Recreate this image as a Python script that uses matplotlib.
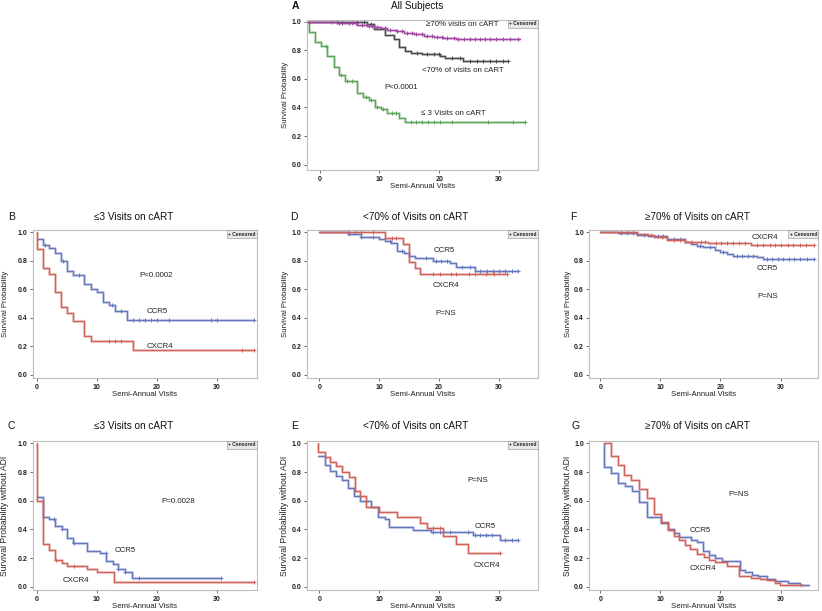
import numpy as np
import matplotlib
matplotlib.use("Agg")
import matplotlib.pyplot as plt

plt.rcParams['font.family'] = ['Liberation Sans', 'DejaVu Sans']

# ---- data (step times, survival after each time; last entry = end of follow-up) ----
# Panel A - all subjects
a_green_t = [-2.1, -1.8, -0.8, 0.2, 1.2, 2.3, 3.2, 4.2, 6.3, 7.3, 8.2, 9.2, 10.2, 11.3, 13.2, 14.2, 34.3]
a_green_s = [1.0, 0.93, 0.86, 0.83, 0.76, 0.685, 0.625, 0.587, 0.502, 0.47, 0.454, 0.406, 0.392, 0.364, 0.324, 0.30, 0.30]
a_green_c = [1.0, 3.5, 4.5, 5.4, 7.7, 8.6, 9.6, 10.6, 12.1, 12.8, 15.2, 16.2, 17.1, 18.1, 19.2, 20.2, 22.1, 28.2, 32.4, 34.3]
a_black_t = [-2.1, 4.9, 7.9, 9.1, 11.0, 12.4, 13.2, 14.3, 15.2, 17.1, 20.2, 21.0, 24.05, 31.6]
a_black_s = [1.0, 0.995, 0.985, 0.95, 0.907, 0.877, 0.821, 0.797, 0.783, 0.774, 0.76, 0.744, 0.725, 0.725]
a_black_c = [2.9, 3.8, 6.3, 7.4, 8.5, 16.3, 17.9, 19.1, 19.9, 22.1, 23.5, 25.2, 26.3, 27.4, 28.5, 29.6, 30.7, 31.6]
a_purple_t = [-2.1, 1.3, 2.9, 4.6, 6.3, 7.9, 9.1, 10.2, 11.3, 12.7, 14.05, 15.7, 17.4, 19.05, 20.7, 22.9, 24.9, 33.5]
a_purple_s = [1.0, 0.998, 0.994, 0.989, 0.98, 0.97, 0.962, 0.954, 0.942, 0.933, 0.923, 0.912, 0.902, 0.895, 0.888, 0.88, 0.877, 0.877]
a_purple_c = [1.8, 3.2, 3.8, 4.9, 5.4, 6.1, 7.1, 8.2, 8.8, 9.6, 11.0, 11.8, 12.9, 13.8, 14.6, 15.4, 16.2, 17.1,
              17.9, 18.8, 19.6, 20.4, 21.3, 22.4, 23.2, 24.1, 25.2, 26.0, 26.8, 27.7, 28.5, 29.6, 30.7, 31.8, 33.2]

# Panel B - <=3 visits, survival
b_ccr5_t = [0, 1.0, 2.05, 3.05, 4.05, 5.0, 6.0, 7.9, 9.0, 10.0, 11.0, 12.05, 13.05, 15.0, 36.2]
b_ccr5_s = [0.955, 0.911, 0.888, 0.853, 0.80, 0.731, 0.70, 0.636, 0.601, 0.58, 0.515, 0.492, 0.45, 0.382, 0.382]
b_ccr5_c = [1.4, 4.4, 7.0, 12.5, 14.0, 16.1, 17.1, 18.05, 19.0, 20.0, 22.1, 29.0, 30.1, 36.2]
b_cxcr4_t = [0, 0, 0.95, 2.0, 3.05, 4.05, 5.0, 6.0, 7.9, 9.0, 16.1, 36.2]
b_cxcr4_s = [1.0, 0.883, 0.748, 0.706, 0.585, 0.48, 0.433, 0.375, 0.27, 0.24, 0.177, 0.177]
b_cxcr4_c = [12.05, 13.05, 14.05, 34.2, 36.2]

# Panel D - <70% visits, survival
d_ccr5_t = [0, 4.8, 6.95, 9.9, 10.9, 11.9, 12.9, 14.1, 15.05, 16.0, 19.0, 21.8, 22.9, 26.0, 33.2]
d_ccr5_s = [1.0, 0.986, 0.969, 0.953, 0.939, 0.927, 0.869, 0.853, 0.836, 0.818, 0.799, 0.783, 0.76, 0.729, 0.729]
d_ccr5_c = [4.9, 6.95, 9.05, 11.8, 13.8, 17.8, 19.5, 20.4, 21.3, 23.8, 25.1, 26.8, 28.05, 29.05, 30.05, 31.05, 32.1, 33.2]
d_cxcr4_t = [0, 11.0, 14.0, 14.9, 15.9, 16.8, 31.3]
d_cxcr4_s = [1.0, 0.962, 0.918, 0.795, 0.752, 0.71, 0.71]
d_cxcr4_c = [5.0, 6.0, 7.0, 9.05, 12.1, 12.8, 18.9, 20.1, 22.0, 22.9, 25.0, 26.0, 27.9, 29.1, 31.3]

# Panel F - >=70% visits, survival
f_ccr5_t = [0, 3.0, 6.05, 8.0, 11.05, 14.1, 15.05, 16.05, 17.05, 19.1, 19.9, 21.05, 22.05, 26.05, 27.05, 35.5]
f_ccr5_s = [1.0, 0.995, 0.985, 0.975, 0.954, 0.935, 0.917, 0.908, 0.896, 0.88, 0.861, 0.85, 0.838, 0.826, 0.815, 0.815]
f_ccr5_c = [3.5, 4.4, 5.4, 7.2, 9.6, 10.5, 12.3, 13.3, 16.6, 18.2, 20.5, 22.7, 23.6, 24.5, 25.4, 27.8, 28.6,
            29.5, 30.4, 31.4, 32.3, 33.3, 34.4, 35.5]
f_cxcr4_t = [0, 6.05, 8.0, 9.0, 11.05, 14.1, 16.05, 18.0, 25.1, 35.5]
f_cxcr4_s = [1.0, 0.99, 0.98, 0.965, 0.945, 0.935, 0.93, 0.925, 0.915, 0.915]
f_cxcr4_c = [3.5, 4.5, 5.5, 8.5, 10.3, 12.3, 13.2, 15.2, 16.8, 17.5, 19.2, 20.1, 21.1, 22.1, 23.1, 24.1, 26.1,
             27.1, 28.2, 29.1, 30.1, 31.2, 32.1, 33.2, 34.2, 35.5]

# Panel C - <=3 visits, survival without ADI
c_ccr5_t = [0, 1.0, 2.05, 2.95, 4.16, 5.1, 6.1, 8.3, 10.55, 11.55, 12.7, 13.6, 14.7, 15.8, 30.8]
c_ccr5_s = [0.628, 0.484, 0.472, 0.426, 0.403, 0.337, 0.309, 0.251, 0.235, 0.181, 0.158, 0.123, 0.10, 0.065, 0.065]
c_ccr5_c = [2.9, 4.2, 6.2, 11.5, 13.6, 14.7, 17.0, 30.8]
c_cxcr4_t = [0, 0, 0.94, 2.05, 3.05, 4.16, 5.0, 8.4, 10.0, 12.8, 36.2]
c_cxcr4_s = [1.0, 0.60, 0.298, 0.256, 0.186, 0.163, 0.145, 0.122, 0.10, 0.033, 0.033]
c_cxcr4_c = [3.2, 6.2, 36.2]

# Panel E - <70% visits, survival without ADI
e_ccr5_t = [-0.2, 0.9, 1.83, 2.83, 3.78, 4.8, 5.8, 6.8, 8.7, 9.8, 10.9, 11.7, 15.7, 18.7, 25.7, 30.1, 33.1]
e_ccr5_s = [0.915, 0.851, 0.81, 0.775, 0.745, 0.689, 0.63, 0.60, 0.558, 0.484, 0.472, 0.414, 0.398, 0.384, 0.363, 0.328, 0.328]
e_ccr5_c = [19.05, 20.1, 21.8, 24.9, 26.0, 26.9, 27.9, 28.9, 31.05, 32.1, 33.1]
e_cxcr4_t = [-0.2, -0.2, 0.9, 1.83, 2.83, 3.78, 4.9, 5.9, 6.8, 7.8, 9.9, 12.9, 16.8, 17.9, 20.7, 22.8, 24.9, 30.2]
e_cxcr4_s = [1.0, 0.937, 0.902, 0.872, 0.839, 0.802, 0.768, 0.665, 0.635, 0.56, 0.523, 0.484, 0.444, 0.407, 0.351, 0.302, 0.239, 0.239]
e_cxcr4_c = [19.05, 20.1, 30.2]

# Panel G - >=70% visits, survival without ADI
g_ccr5_t = [0.67, 0.67, 1.78, 3.0, 4.1, 5.2, 6.5, 7.7, 10.05, 11.2, 12.2, 13.1, 15.05, 16.1, 17.1, 18.05, 19.1, 20.2,
            23.2, 24.1, 25.2, 26.3, 27.7, 29.1, 31.3, 33.2, 34.7]
g_ccr5_s = [1.0, 0.837, 0.791, 0.724, 0.70, 0.67, 0.593, 0.49, 0.444, 0.404, 0.377, 0.346, 0.323, 0.31, 0.251, 0.221, 0.198,
            0.18, 0.12, 0.10, 0.085, 0.075, 0.055, 0.04, 0.025, 0.012, 0.012]
g_cxcr4_t = [0.67, 1.78, 2.9, 4.0, 5.05, 6.5, 7.7, 8.95, 10.05, 11.2, 12.2, 13.1, 14.1, 14.95, 16.1, 17.2, 18.05, 19.1,
             21.05, 23.0, 25.1, 26.6, 27.7, 29.1, 29.9, 33.8]
g_cxcr4_s = [1.0, 0.909, 0.849, 0.782, 0.747, 0.682, 0.619, 0.507, 0.449, 0.398, 0.356, 0.328, 0.295, 0.263, 0.232,
             0.205, 0.188, 0.17, 0.147, 0.077, 0.065, 0.055, 0.045, 0.03, 0.015, 0.015]

BLUE = '#6577bd'
RED = '#d0625c'
GREEN = '#5ca55c'
PURPLE = '#a145a4'
BLACK = '#4a4a4a'


def km(ax, t, s, col, cens=None):
    t = np.asarray(t, float)
    s = np.asarray(s, float)
    ax.step(t, s, where='post', color=col, lw=2.2, alpha=0.3, solid_capstyle='butt')
    ax.step(t, s, where='post', color=col, lw=0.9)
    if cens:
        c = np.asarray(cens, float)
        idx = np.clip(np.searchsorted(t, c, side='right') - 1, 0, len(s) - 1)
        ax.plot(c, s[idx], ls='none', marker='+', ms=3.2, mew=0.7, color=col)


def style(ax, xlim, ylim, ylab, ylab_x, ylab_fs, censored=True):
    ax.set_xlim(*xlim)
    ax.set_ylim(*ylim)
    ax.set_xticks([0, 10, 20, 30])
    ax.set_yticks([0, 0.2, 0.4, 0.6, 0.8, 1.0])
    ax.set_yticklabels(['0.0', '0.2', '0.4', '0.6', '0.8', '1.0'])
    ax.tick_params(labelsize=5, length=2.5, width=0.5, pad=1.5, colors='#333333', labelcolor='#222222')
    for lab in ax.get_xticklabels() + ax.get_yticklabels():
        lab.set_fontweight('bold')
    for sp in ax.spines.values():
        sp.set_color('#bdbdbd')
        sp.set_linewidth(0.8)
    ax.set_xlabel('Semi-Annual Visits', fontsize=5.6, color='#222222')
    ax.xaxis.set_label_coords(0.5, -0.09)
    ax.set_ylabel(ylab, fontsize=ylab_fs, color='#222222')
    ax.yaxis.set_label_coords(ylab_x, 0.5)
    if censored:
        ax.text(0.994, 0.99, '+ Censored', transform=ax.transAxes, ha='right', va='top',
                fontsize=3.6, fontweight='bold', color='#222222',
                bbox=dict(boxstyle='square,pad=0.25', fc='#e9e9e9', ec='#a0a0a0', lw=0.5))


def note(ax, x, y, s):
    ax.text(x, y, s, ha='center', va='center', fontsize=5.7, color='#222222')


fig = plt.figure(figsize=(8.22, 6.11), dpi=100)

cols = [(0.0405, 0.2718), (0.3738, 0.2803), (0.717, 0.2786)]
rows = [(0.3813, 0.2422), (0.0344, 0.2439)]
xlims = [(-0.6, 36.7), (-2.0, 36.45), (-1.83, 36.3)]
ylab_x = [-0.108, -0.079, -0.074]
YL = (-0.022, 1.017)

# Panel A
axA = fig.add_axes([cols[1][0], 0.7218, cols[1][1], 0.2455])
km(axA, a_green_t, a_green_s, GREEN, a_green_c)
km(axA, a_black_t, a_black_s, BLACK, a_black_c)
km(axA, a_purple_t, a_purple_s, PURPLE, a_purple_c)
style(axA, (-2.1, 36.5), (-0.037, 1.012), 'Survival Probability', ylab_x[1], 5.6)
note(axA, 23.9, 0.977, '≥70% visits on cART')
note(axA, 24.0, 0.662, '<70% of visits on cART')
note(axA, 13.6, 0.541, 'P<0.0001')
note(axA, 22.4, 0.36, '≤ 3 Visits on cART')

# Row 2 (survival)
axB = fig.add_axes([cols[0][0], rows[0][0], cols[0][1], rows[0][1]])
km(axB, b_ccr5_t, b_ccr5_s, BLUE, b_ccr5_c)
km(axB, b_cxcr4_t, b_cxcr4_s, RED, b_cxcr4_c)
style(axB, xlims[0], YL, 'Survival Probability', ylab_x[0], 5.6)
note(axB, 19.9, 0.70, 'P<0.0002')
note(axB, 20.1, 0.445, 'CCR5')
note(axB, 20.5, 0.20, 'CXCR4')

axD = fig.add_axes([cols[1][0], rows[0][0], cols[1][1], rows[0][1]])
km(axD, d_ccr5_t, d_ccr5_s, BLUE, d_ccr5_c)
km(axD, d_cxcr4_t, d_cxcr4_s, RED, d_cxcr4_c)
style(axD, xlims[1], YL, 'Survival Probability', ylab_x[1], 5.6)
note(axD, 20.8, 0.87, 'CCR5')
note(axD, 21.1, 0.627, 'CXCR4')
note(axD, 21.1, 0.433, 'P=NS')

axF = fig.add_axes([cols[2][0], rows[0][0], cols[2][1], rows[0][1]])
km(axF, f_ccr5_t, f_ccr5_s, BLUE, f_ccr5_c)
km(axF, f_cxcr4_t, f_cxcr4_s, RED, f_cxcr4_c)
style(axF, xlims[2], YL, 'Survival Probability', ylab_x[2], 5.6)
note(axF, 27.4, 0.965, 'CXCR4')
note(axF, 27.8, 0.75, 'CCR5')
note(axF, 27.8, 0.548, 'P=NS')

# Row 3 (survival without ADI)
axC = fig.add_axes([cols[0][0], rows[1][0], cols[0][1], rows[1][1]])
km(axC, c_ccr5_t, c_ccr5_s, BLUE, c_ccr5_c)
km(axC, c_cxcr4_t, c_cxcr4_s, RED, c_cxcr4_c)
style(axC, xlims[0], YL, 'Survival Probability without ADI', ylab_x[0], 6.2)
note(axC, 23.6, 0.593, 'P=0.0028')
note(axC, 14.8, 0.251, 'CCR5')
note(axC, 6.55, 0.045, 'CXCR4')

axE = fig.add_axes([cols[1][0], rows[1][0], cols[1][1], rows[1][1]])
km(axE, e_ccr5_t, e_ccr5_s, BLUE, e_ccr5_c)
km(axE, e_cxcr4_t, e_cxcr4_s, RED, e_cxcr4_c)
style(axE, xlims[1], YL, 'Survival Probability without ADI', ylab_x[1], 6.2)
note(axE, 26.4, 0.74, 'P=NS')
note(axE, 27.7, 0.42, 'CCR5')
note(axE, 28.05, 0.151, 'CXCR4')

axG = fig.add_axes([cols[2][0], rows[1][0], cols[2][1], rows[1][1]])
km(axG, g_ccr5_t, g_ccr5_s, BLUE)
km(axG, g_cxcr4_t, g_cxcr4_s, RED)
style(axG, xlims[2], YL, 'Survival Probability without ADI', ylab_x[2], 6.2, censored=False)
note(axG, 23.0, 0.642, 'P=NS')
note(axG, 16.7, 0.39, 'CCR5')
note(axG, 17.1, 0.128, 'CXCR4')

# titles and panel letters
titles = [
    (0.507, 0.990, 'All Subjects', 0.359, 'A'),
    (0.162, 0.645, '≤3 Visits on cART', 0.0142, 'B'),
    (0.506, 0.645, '<70% of Visits on cART', 0.358, 'D'),
    (0.849, 0.645, '≥70% of Visits on cART', 0.698, 'F'),
    (0.162, 0.302, '≤3 Visits on cART', 0.0142, 'C'),
    (0.506, 0.302, '<70% of Visits on cART', 0.358, 'E'),
    (0.849, 0.302, '≥70% of Visits on cART', 0.700, 'G'),
]
for tx, ty, tt, lx, lt in titles:
    fig.text(tx, ty, tt, ha='center', va='center', fontsize=7.2, color='#111111')
    fig.text(lx, ty, lt, ha='center', va='center', fontsize=7.5,
             fontweight='bold' if lt == 'A' else 'normal', color='#111111')

fig.savefig('out.png', dpi=100)
